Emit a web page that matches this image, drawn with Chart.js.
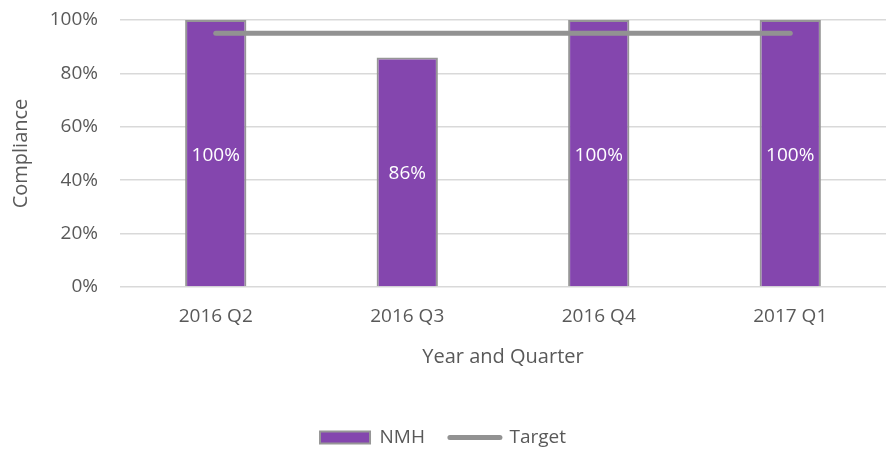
<!DOCTYPE html>
<html>
<head>
<meta charset="utf-8">
<script src="https://cdn.jsdelivr.net/npm/chart.js@4"></script>
<style>
  html, body { margin: 0; padding: 0; background: #fff; }
  #wrap { width: 886px; height: 451px; position: relative; }
</style>
</head>
<body>
<div id="wrap"><canvas id="c"></canvas></div>
<script>
const quarters = ['2016 Q2', '2016 Q3', '2016 Q4', '2017 Q1'];
const nmhValues = [100, 86, 100, 100];
const targetValues = [95, 95, 95, 95];
const yTicks = [0, 20, 40, 60, 80, 100];

const FONT = "'Open Sans', sans-serif";
const TXT = '#595959';

// white value labels centred inside bars
const barLabels = {
  id: 'barLabels',
  afterDatasetsDraw(chart) {
    const ctx = chart.ctx;
    const meta = chart.getDatasetMeta(0);
    ctx.save();
    ctx.fillStyle = '#fff';
    ctx.font = '19px ' + FONT;
    ctx.textAlign = 'center';
    ctx.textBaseline = 'middle';
    meta.data.forEach((bar, i) => {
      const y = (bar.y + bar.base) / 2 + 2;
      ctx.fillText(nmhValues[i] + '%', bar.x, y);
    });
    ctx.restore();
  }
};

// pull the legend a bit lower than chart.js puts it
const legendShift = {
  id: 'legendShift',
  afterInit(chart) {
    const lg = chart.legend;
    if (!lg) return;
    const fit = lg.fit;
    lg.fit = function () { fit.call(this); this.height -= 6; };
  }
};

new Chart(document.getElementById('c').getContext('2d'), {
  type: 'bar',
  data: {
    labels: quarters,
    datasets: [
      {
        type: 'bar',
        label: 'NMH',
        data: nmhValues,
        backgroundColor: '#8446ae',
        borderColor: '#969696',
        borderWidth: 2,
        categoryPercentage: 1,
        barPercentage: 0.32,
        order: 2,
      },
      {
        type: 'line',
        label: 'Target',
        data: targetValues,
        borderColor: '#929292',
        backgroundColor: '#929292',
        borderWidth: 5,
        borderCapStyle: 'round',
        pointRadius: 0,
        pointStyle: 'line',
        order: 1,
      },
    ],
  },
  options: {
    responsive: true, maintainAspectRatio: false,
    animation: false,
    layout: { padding: { top: 20, right: 0, bottom: 0, left: 0 } },
    scales: {
      x: {
        afterFit(scale) { scale.height = 116; },
        grid: { display: false },
        border: { display: false },
        ticks: { color: TXT, font: { family: FONT, size: 19 }, padding: 10 },
        title: { display: true, text: 'Year and Quarter', color: TXT, font: { family: FONT, size: 20 }, padding: { top: 4, bottom: 34 } },
      },
      y: {
        min: 0, max: 100,
        afterBuildTicks(scale) { scale.ticks = yTicks.map(v => ({ value: v })); },
        afterFit(scale) { scale.width = 120; },
        grid: { color: '#d9d9d9', lineWidth: 1.5, drawTicks: true, tickLength: 22, tickColor: 'rgba(0,0,0,0)' },
        border: { display: false },
        ticks: { color: TXT, font: { family: FONT, size: 19 }, padding: 0, callback: v => v + '%' },
        title: { display: true, text: 'Compliance', color: TXT, font: { family: FONT, size: 20 }, padding: { top: 9, bottom: 0 } },
      },
    },
    plugins: {
      legend: {
        position: 'bottom',
        labels: {
          usePointStyle: true,
          pointStyleWidth: 50,
          boxHeight: 12,
          color: TXT,
          font: { family: FONT, size: 19 },
          padding: 25,
          generateLabels(chart) {
            return chart.data.datasets.map((ds, i) => ({
              text: ds.label,
              datasetIndex: i,
              fillStyle: ds.backgroundColor,
              strokeStyle: i === 0 ? '#969696' : '#929292',
              lineWidth: i === 0 ? 2 : 5,
              lineCap: 'round',
              pointStyle: i === 0 ? 'rect' : 'line',
              fontColor: TXT,
            }));
          },
        },
      },
      tooltip: { enabled: false },
    },
  },
  plugins: [barLabels, legendShift],
});
</script>
</body>
</html>
